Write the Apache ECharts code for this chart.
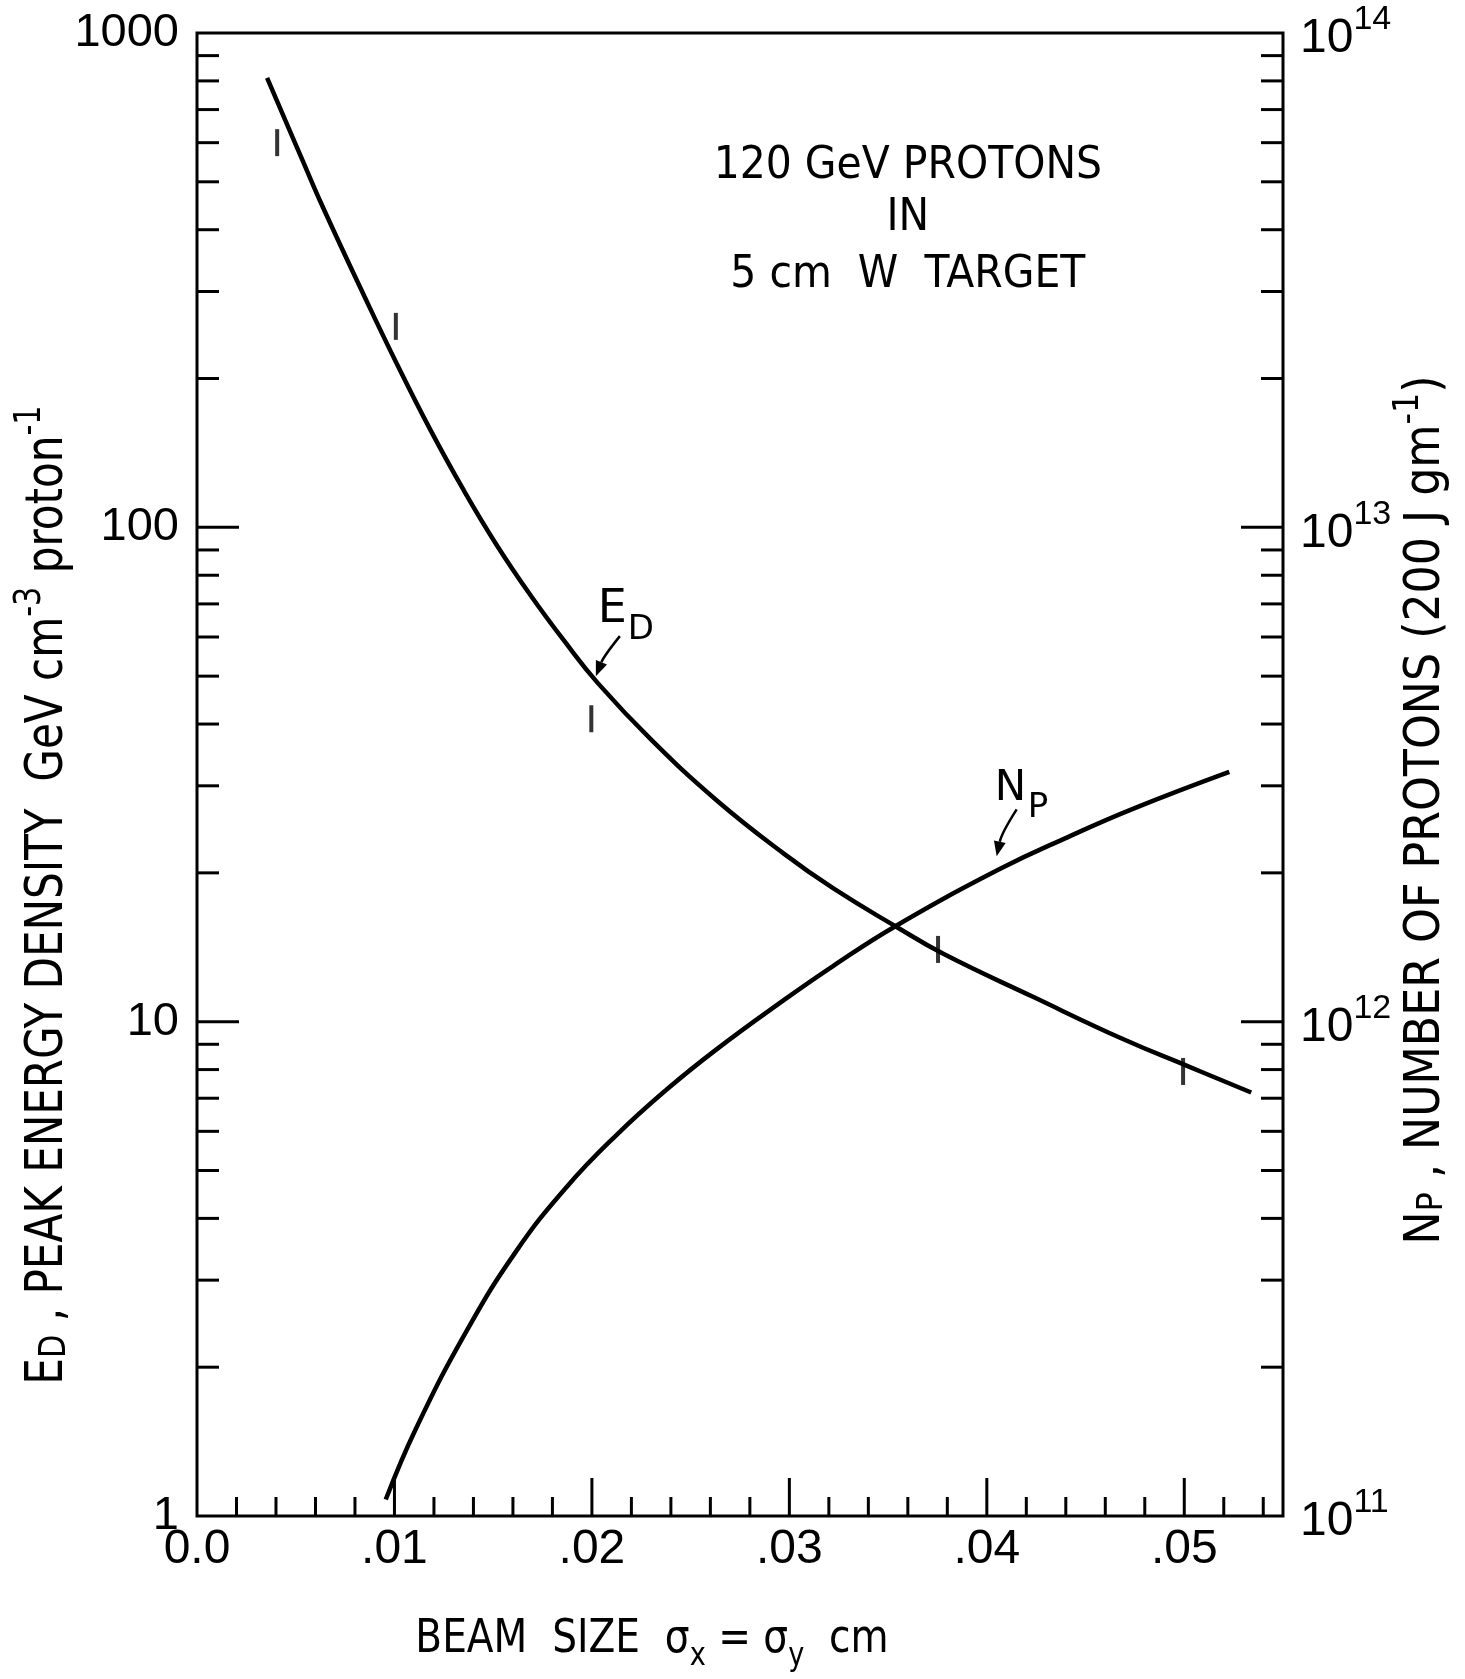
<!DOCTYPE html>
<html>
<head>
<meta charset="utf-8">
<script src="https://cdn.jsdelivr.net/npm/echarts@6/dist/echarts.min.js"></script>
<style>
html, body { margin: 0; padding: 0; background: #fff; }
#main { width: 1465px; height: 1679px; }
</style>
</head>
<body>
<div id="main"></div>
<script>
// E_D, peak energy density (GeV cm^-3 proton^-1) vs beam size (cm)
var edBeamSize = [0.00355, 0.0054, 0.0064, 0.0085, 0.0102, 0.0118, 0.0135, 0.0152, 0.0169, 0.0186, 0.0203, 0.0230,
                  0.02631, 0.0297, 0.03223, 0.03537, 0.03782, 0.04239, 0.04695, 0.05017, 0.05339];
var edValues = [811, 546, 442, 292, 211, 158, 119, 91.8, 72.8, 58.9, 48.4, 37.2,
                28.05, 21.9, 18.6, 15.6, 13.7, 11.2, 9.2, 8.13, 7.19];

// N_P, number of protons (200 J/g) vs beam size (cm)
var npBeamSize = [0.00956, 0.01108, 0.01362, 0.01616, 0.0187, 0.02123, 0.02377, 0.02631, 0.0297,
                  0.03223, 0.03537, 0.0407, 0.04408, 0.04746, 0.05228];
var npValues = [1.08e11, 1.50e11, 2.355e11, 3.43e11, 4.62e11, 5.89e11, 7.28e11, 8.79e11, 1.104e12,
                1.297e12, 1.56e12, 2.04e12, 2.36e12, 2.70e12, 3.20e12];

// small vertical marks drawn along the E_D curve
var markBeamSize = [0.00406, 0.01007, 0.01997, 0.03753, 0.04994];
var markValues = [600, 255, 41, 14.0, 7.93];

// tick positions
var xMajorTicks = [0.01, 0.02, 0.03, 0.04, 0.05];
var xMinorTicks = [0.002, 0.004, 0.006, 0.008, 0.012, 0.014, 0.016, 0.018, 0.022, 0.024, 0.026, 0.028,
                   0.032, 0.034, 0.036, 0.038, 0.042, 0.044, 0.046, 0.048, 0.052, 0.054];
var xTickLabels = ['0.0', '.01', '.02', '.03', '.04', '.05'];
var leftMajorTicks = [10, 100];
var leftMinorTicks = [2, 3, 4, 5, 6, 7, 8, 9, 20, 30, 40, 50, 60, 70, 80, 90, 200, 300, 400, 500, 600, 700, 800, 900];
var rightMajorTicks = [1e12, 1e13];
var rightMinorTicks = [2e11, 3e11, 4e11, 5e11, 6e11, 7e11, 8e11, 9e11, 2e12, 3e12, 4e12, 5e12, 6e12, 7e12, 8e12, 9e12,
                       2e13, 3e13, 4e13, 5e13, 6e13, 7e13, 8e13, 9e13];

var X_MAX = 0.055;
var FONT = 'Liberation Sans';
var DV = 'DejaVu Sans';
var COND = '"DejaVu Sans Condensed", "DejaVu Sans"';

var chart = echarts.init(document.getElementById('main'));

function zip(a, b) {
    return a.map(function (v, i) { return [v, b[i]]; });
}

function tickSeries(name, yIdx, data, dir) {
    return {
        name: name,
        type: 'custom',
        xAxisIndex: 0,
        yAxisIndex: yIdx,
        silent: true,
        z: 5,
        data: data,
        renderItem: function (params, api) {
            var p = api.coord([api.value(0), api.value(1)]);
            var len = api.value(2);
            var shape;
            if (dir === 'up') {
                shape = { x1: p[0], y1: p[1], x2: p[0], y2: p[1] - len };
            } else {
                shape = { x1: p[0], y1: p[1], x2: p[0] + dir * len, y2: p[1] };
            }
            return { type: 'line', shape: shape, style: { stroke: '#000', lineWidth: 3 } };
        }
    };
}

var xTickData = xMajorTicks.map(function (v) { return [v, 1, 38]; })
    .concat(xMinorTicks.map(function (v) { return [v, 1, 19]; }));
var leftTickData = leftMajorTicks.map(function (v) { return [0, v, 42]; })
    .concat(leftMinorTicks.map(function (v) { return [0, v, 22]; }));
var rightTickData = rightMajorTicks.map(function (v) { return [X_MAX, v, 42]; })
    .concat(rightMinorTicks.map(function (v) { return [X_MAX, v, 22]; }));

var option = {
    animation: false,
    backgroundColor: '#fff',
    grid: {
        left: 197, right: 182, top: 33, bottom: 163,
        show: true, borderColor: '#000', borderWidth: 3
    },
    xAxis: {
        type: 'value',
        min: 0, max: X_MAX, interval: 0.01,
        axisLine: { show: false },
        axisTick: { show: false },
        splitLine: { show: false },
        axisLabel: {
            margin: 10,
            fontFamily: FONT, fontSize: 48, color: '#000',
            formatter: function (v) {
                var i = Math.round(v * 100);
                return Math.abs(v - i / 100) < 1e-6 && i < xTickLabels.length ? xTickLabels[i] : '';
            }
        }
    },
    yAxis: [{
        type: 'log', logBase: 10, min: 1, max: 1000,
        axisLine: { show: false },
        axisTick: { show: false },
        splitLine: { show: false },
        axisLabel: {
            margin: 18,
            padding: [24, 0, 0, 0],
            fontFamily: FONT, fontSize: 47, color: '#000',
            formatter: function (v) { return String(Math.round(v)); }
        }
    }, {
        type: 'log', logBase: 10, min: 1e11, max: 1e14,
        position: 'right',
        axisLine: { show: false },
        axisTick: { show: false },
        splitLine: { show: false },
        axisLabel: {
            margin: 17,
            color: '#000',
            formatter: function (v) {
                return '{b|10}{s|' + Math.round(Math.log(v) / Math.LN10) + '}';
            },
            rich: {
                b: { fontFamily: FONT, fontSize: 48, lineHeight: 60, verticalAlign: 'bottom', color: '#000' },
                s: { fontFamily: FONT, fontSize: 34, lineHeight: 34, verticalAlign: 'top', color: '#000' }
            }
        }
    }],
    series: [{
        name: 'E_D',
        type: 'line',
        xAxisIndex: 0, yAxisIndex: 0,
        data: zip(edBeamSize, edValues),
        smooth: 0.45,
        symbol: 'none',
        lineStyle: { color: '#000', width: 4.5 },
        z: 3
    }, {
        name: 'N_P',
        type: 'line',
        xAxisIndex: 0, yAxisIndex: 1,
        data: zip(npBeamSize, npValues),
        smooth: 0.45,
        symbol: 'none',
        lineStyle: { color: '#000', width: 4.5 },
        z: 3
    }, {
        name: 'marks',
        type: 'scatter',
        xAxisIndex: 0, yAxisIndex: 0,
        data: zip(markBeamSize, markValues),
        symbol: 'rect',
        symbolSize: [4, 27],
        itemStyle: { color: '#000' },
        z: 4
    },
        tickSeries('xTicks', 0, xTickData, 'up'),
        tickSeries('leftTicks', 0, leftTickData, 1),
        tickSeries('rightTicks', 1, rightTickData, -1)
    ]
};

chart.setOption(option);

// annotations, anchored to data positions
var edTip = chart.convertToPixel({ xAxisIndex: 0, yAxisIndex: 0 }, [0.0202, 50]);
var npTip = chart.convertToPixel({ xAxisIndex: 0, yAxisIndex: 1 }, [0.0405, 2.16e12]);
var boxCenter = chart.convertToPixel({ xAxisIndex: 0, yAxisIndex: 0 }, [0.0360, 418]);

function arrow(tip, dx, dy, bend) {
    var sx = tip[0] + dx, sy = tip[1] + dy;
    var cx = (sx + tip[0]) / 2 + bend, cy = (sy + tip[1]) / 2;
    var ang = Math.atan2(tip[1] - cy, tip[0] - cx);
    var h = 15, w = 6;
    var bx = tip[0] - h * Math.cos(ang), by = tip[1] - h * Math.sin(ang);
    return [{
        type: 'bezierCurve',
        shape: { x1: sx, y1: sy, x2: bx, y2: by, cpx1: cx, cpy1: cy },
        style: { stroke: '#000', lineWidth: 2.5, fill: null }
    }, {
        type: 'polygon',
        shape: { points: [[tip[0], tip[1]],
            [bx + w * Math.sin(ang), by - w * Math.cos(ang)],
            [bx - w * Math.sin(ang), by + w * Math.cos(ang)]] },
        style: { fill: '#000' }
    }];
}

function txt(x, y, text, size, align, sx) {
    return {
        type: 'text', x: x, y: y, scaleX: sx || 1,
        style: { text: text, fill: '#000', fontFamily: DV, fontSize: size,
                 align: align || 'left', verticalAlign: 'middle' }
    };
}

// rotated axis title: group carries the rotation, text carries the squeeze
function vTitle(x, y, text, size, sx, color) {
    return {
        type: 'group', x: x, y: y, rotation: Math.PI / 2,
        children: [{
            type: 'text', x: 0, y: 0, scaleX: sx,
            style: {
                text: text, align: 'center', verticalAlign: 'middle',
                rich: {
                    m: { fontFamily: COND, fontSize: size, lineHeight: size + 10, verticalAlign: 'bottom', color: color },
                    sub: { fontFamily: COND, fontSize: size * 0.72, lineHeight: size * 0.72, verticalAlign: 'bottom', color: color },
                    sup: { fontFamily: COND, fontSize: size * 0.72, lineHeight: size * 0.72, verticalAlign: 'top', color: color }
                }
            }
        }]
    };
}

var graphics = []
    .concat(arrow(edTip, 24, -40, -4))
    .concat(arrow(npTip, 20, -47, -5))
    .concat([
        txt(edTip[0] + 2, edTip[1] - 66, 'E', 46),
        txt(edTip[0] + 32, edTip[1] - 46, 'D', 34),
        txt(npTip[0] - 2, npTip[1] - 67, 'N', 42),
        txt(npTip[0] + 31, npTip[1] - 48, 'P', 34),
        txt(boxCenter[0], boxCenter[1] - 54, '120 GeV PROTONS', 45, 'center', 0.91),
        txt(boxCenter[0], boxCenter[1] - 2, 'IN', 45, 'center', 0.91),
        txt(boxCenter[0], boxCenter[1] + 55, '5 cm  W  TARGET', 45, 'center', 0.91),
        {
            type: 'text', x: 652, y: 1645, scaleX: 0.85,
            style: {
                text: '{m|BEAM  SIZE  σ}{sub|x}{m| = σ}{sub|y}{m|  cm}',
                align: 'center', verticalAlign: 'middle',
                rich: {
                    m: { fontFamily: DV, fontSize: 46, lineHeight: 56, verticalAlign: 'top', color: '#000' },
                    sub: { fontFamily: DV, fontSize: 32, lineHeight: 32, verticalAlign: 'bottom', color: '#000' }
                }
            }
        },
        vTitle(43, 895, '{m|E}{sub|D}{m| , PEAK ENERGY DENSITY  GeV cm}{sup|-3}{m| proton}{sup|-1}', 52, 0.9, '#000'),
        vTitle(1421, 810, '{m|N}{sub|P}{m| , NUMBER OF PROTONS (200 J gm}{sup|-1}{m|)}', 50, 0.985, '#1a1a1a')
    ]);

chart.setOption({ graphic: graphics });
</script>
</body>
</html>
